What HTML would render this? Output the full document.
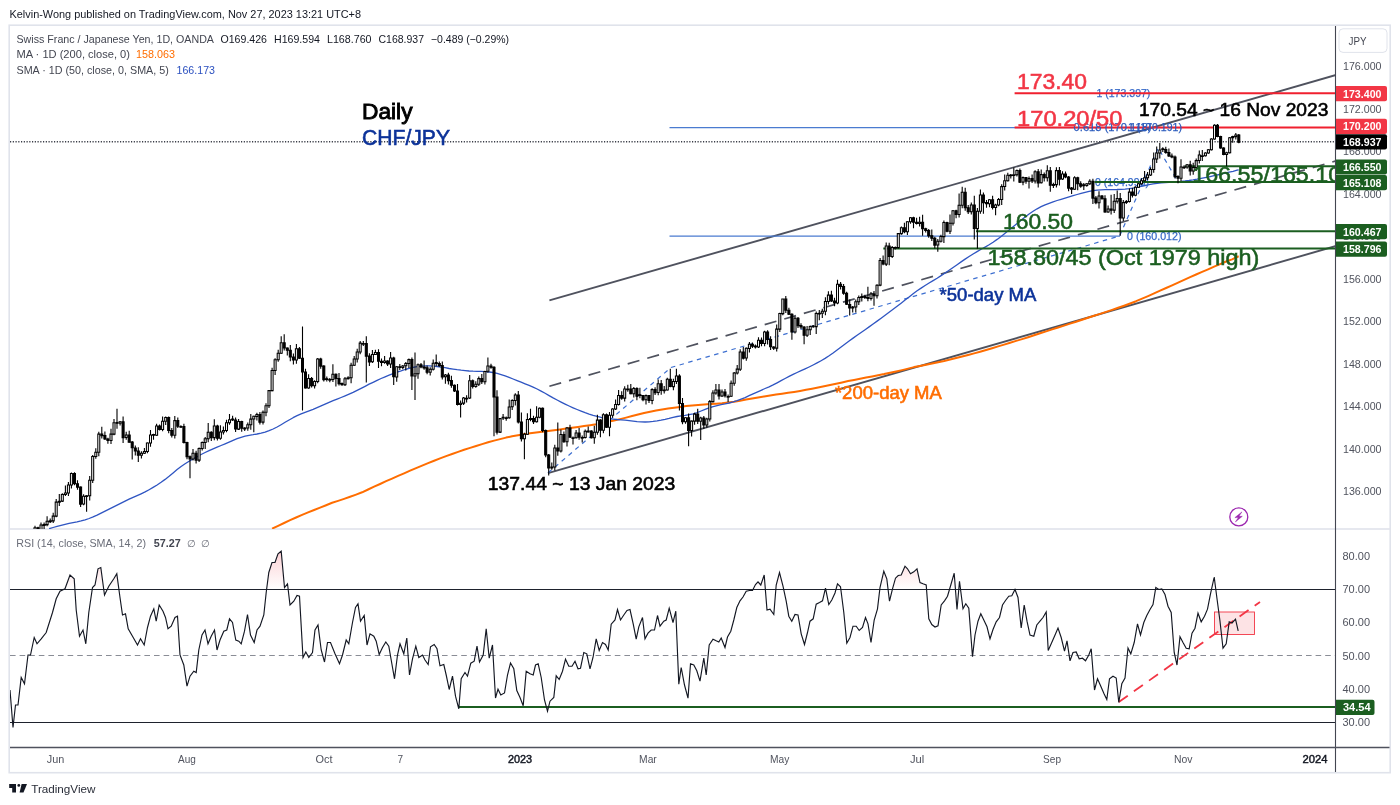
<!DOCTYPE html>
<html lang="en"><head><meta charset="utf-8"><title>CHF/JPY Daily - TradingView</title>
<style>
html,body{margin:0;padding:0;background:#fff;}
body{width:1400px;height:805px;overflow:hidden;position:relative;font-family:"Liberation Sans",sans-serif;}
svg{position:absolute;left:0;top:0;display:block;}
text{font-family:"Liberation Sans",sans-serif;}
.ax{font-size:11px;fill:#50535e;}
.tag{font-size:11px;fill:#fff;font-weight:bold;}
.lg{font-size:11px;fill:#50535e;}
.big{font-size:22.3px;stroke-width:0.55px;}
.mid{font-size:17.5px;stroke-width:0.55px;}
.fib{font-size:11px;fill:#3568c8;stroke:#3568c8;stroke-width:0.25px;}
</style></head><body>
<svg width="1400" height="805" viewBox="0 0 1400 805">
<defs>
<clipPath id="cm"><rect x="10" y="26" width="1326" height="503"/></clipPath>
<clipPath id="cr"><rect x="10" y="530" width="1326" height="217.5"/></clipPath>
<linearGradient id="pg" gradientUnits="userSpaceOnUse" x1="0" y1="538" x2="0" y2="589.5"><stop offset="0" stop-color="#f23645" stop-opacity="0.3"/><stop offset="1" stop-color="#f23645" stop-opacity="0"/></linearGradient>
</defs>
<rect x="0" y="0" width="1400" height="805" fill="#fff"/>
<text x="9.5" y="17.8" font-size="11" fill="#131722" textLength="351.5" lengthAdjust="spacingAndGlyphs">Kelvin-Wong published on TradingView.com, Nov 27, 2023 13:21 UTC+8</text>
<rect x="9.2" y="25.2" width="1381" height="747.5" fill="none" stroke="#e0e3eb" stroke-width="1.6"/>
<rect x="10" y="528.2" width="1380" height="1.6" fill="#e0e3eb"/>
<g clip-path="url(#cm)">
<line x1="10" y1="141.85" x2="1336" y2="141.85" stroke="#3a3d47" stroke-width="1.5" stroke-dasharray="1.2 1.55"/>
<line x1="549.4" y1="300.4" x2="1336" y2="75" stroke="#4f525e" stroke-width="1.9"/>
<line x1="548" y1="473.1" x2="1336" y2="246" stroke="#4f525e" stroke-width="1.9"/>
<line x1="549.4" y1="386.3" x2="1336" y2="160.9" stroke="#4f525e" stroke-width="1.7" stroke-dasharray="12.2 8.16"/>
<line x1="669.5" y1="127.6" x2="1182" y2="127.6" stroke="#4a7bd0" stroke-width="1.3"/>
<line x1="669.5" y1="236.1" x2="1120" y2="236.1" stroke="#4a7bd0" stroke-width="1.3"/>
<polyline fill="none" stroke="#3d6fd0" stroke-width="1.2" stroke-dasharray="4.5 4.5" points="548,473 671,367.5 1119.6,236 1158.2,148 1177.8,181.6"/>
<polyline fill="none" stroke="#ff6d00" stroke-width="2" stroke-linejoin="round" points="272.1,528.7 278.1,525.8 284.1,523 290.1,520.2 296.1,517.5 302.1,514.9 308.1,512.4 314.1,510 320.1,507.6 326.1,505.2 332.1,502.8 338.1,500.9 344.1,498.9 350.1,496.8 356.1,494.6 362.1,492.3 368.1,489.5 374.1,486.7 380.1,484 386.1,481.2 392.1,478.6 398.1,475.9 404.1,473.3 410.1,470.7 416.1,468.1 422.1,465.6 428.1,463.1 434.1,460.7 440.1,458.4 446.1,456.1 452.1,454 458.1,451.9 464.1,449.8 470.1,447.9 476.1,446 482.1,444.1 488.1,442.3 494.1,440.6 500.1,439.1 506.1,437.6 512.1,436.3 518.1,435.2 524.1,434.2 530.1,433.3 536.1,432.4 542.1,431.7 548.1,430.9 554.1,430.2 560.1,429.4 566.1,428.6 572.1,427.8 578.1,427 584.1,426.1 590.1,425.2 596.1,424.2 602.1,423 608.1,421.8 614.1,420.5 620.1,419.1 626.1,417.6 632.1,416 638.1,414.5 644.1,413 650.1,411.7 656.1,410.5 662.1,409.4 668.1,408.6 674.1,407.7 680.1,406.9 686.1,406.1 692.1,405.5 698.1,405 704.1,404.5 710.1,404.1 716.1,403.7 722.1,403.2 728.1,402.5 734.1,401.7 740.1,400.7 746.1,399.6 752.1,398.5 758.1,397.5 764.1,396.5 770.1,395.5 776.1,394.6 782.1,393.7 788.1,392.8 794.1,391.9 800.1,390.9 806.1,389.8 812.1,388.7 818.1,387.5 824.1,386.2 830.1,384.9 836.1,383.7 842.1,382.4 848.1,381.1 854.1,379.9 860.1,378.7 866.1,377.5 872.1,376.4 878.1,375.2 884.1,374.1 890.1,372.8 896.1,371.5 902.1,370.1 908.1,368.6 914.1,367.1 920.1,365.9 926.1,364.7 932.1,363.5 938.1,362.3 944.1,361 950.1,359.5 956.1,358 962.1,356.5 968.1,355 974.1,353.4 980.1,351.7 986.1,350 992.1,348.2 998.1,346.4 1004.1,344.6 1010.1,342.8 1016.1,340.9 1022.1,339.1 1028.1,337.2 1034.1,335.3 1040.1,333.3 1046.1,331.4 1052.1,329.4 1058.1,327.5 1064.1,325.6 1070.1,323.6 1076.1,321.7 1082.1,319.7 1088.1,317.8 1094.1,315.8 1100.1,313.9 1106.1,311.9 1112.1,309.9 1118.1,307.8 1124.1,305.7 1130.1,303.5 1136.1,301.2 1142.1,298.7 1148.1,296.1 1154.1,293.4 1160.1,290.7 1166.1,288 1172.1,285.3 1178.1,282.6 1184.1,279.9 1190.1,277.2 1196.1,274.5 1202.1,271.9 1208.1,269.3 1214.1,266.6 1220.1,264.1 1226.1,261.5 1232.1,259.4 1238.1,256.5 1238.7,256.3"/>
<polyline fill="none" stroke="#2f55c2" stroke-width="1.3" stroke-linejoin="round" points="49.1,528.7 53.1,527.5 57.1,526.3 61.1,525.3 65.1,524.3 69.1,523.4 73.1,522.6 77.1,521.8 81.1,520.9 85.1,519.8 89.1,518.5 93.1,516.9 97.1,515.1 101.1,513.1 105.1,511.1 109.1,509.1 113.1,507.1 117.1,505.1 121.1,503.1 125.1,501.1 129.1,499.2 133.1,497.4 137.1,495.6 141.1,493.8 145.1,491.9 149.1,489.7 153.1,487.4 157.1,485 161.1,482.3 165.1,479.4 169.1,476.3 173.1,472.9 177.1,469.6 181.1,466.5 185.1,463.8 189.1,461.2 193.1,458.9 197.1,456.7 201.1,454.5 205.1,452.5 209.1,450.6 213.1,448.8 217.1,447.2 221.1,445.5 225.1,443.9 229.1,442.2 233.1,440.4 237.1,438.7 241.1,437.3 245.1,436.2 249.1,435.3 253.1,434.7 257.1,434 261.1,433.2 265.1,432.2 269.1,430.7 273.1,429 277.1,427 281.1,424.7 285.1,422.3 289.1,420 293.1,417.7 297.1,415.7 301.1,413.9 305.1,412.3 309.1,410.8 313.1,409.3 317.1,407.6 321.1,405.9 325.1,404.1 329.1,402.4 333.1,400.7 337.1,399.1 341.1,397.5 345.1,395.9 349.1,394.2 353.1,392.4 357.1,390.4 361.1,388.4 365.1,386.3 369.1,384.2 373.1,382.3 377.1,380.3 381.1,378.5 385.1,376.8 389.1,375.2 393.1,373.6 397.1,372.2 401.1,370.9 405.1,369.5 409.1,368.4 413.1,367.4 417.1,366.6 421.1,366.1 425.1,365.9 429.1,365.9 433.1,366.1 437.1,366.5 441.1,367.1 445.1,367.7 449.1,368.5 453.1,369.1 457.1,369.7 461.1,370.2 465.1,370.6 469.1,371 473.1,371.2 477.1,371.3 481.1,371.4 485.1,371.6 489.1,372 493.1,372.5 497.1,373.4 501.1,374.6 505.1,375.9 509.1,377.4 513.1,379 517.1,380.6 521.1,382.2 525.1,383.8 529.1,385.4 533.1,387.1 537.1,389 541.1,391.1 545.1,393.3 549.1,395.6 553.1,397.9 557.1,400 561.1,402.1 565.1,404.1 569.1,406 573.1,407.8 577.1,409.5 581.1,411.1 585.1,412.7 589.1,414.1 593.1,415.4 597.1,416.4 601.1,417.3 605.1,418.1 609.1,418.7 613.1,419.1 617.1,419.5 621.1,419.8 625.1,420.2 629.1,420.6 633.1,421.1 637.1,421.6 641.1,421.9 645.1,422 649.1,421.8 653.1,421.4 657.1,420.8 661.1,420.1 665.1,419.3 669.1,418.4 673.1,417.3 677.1,416.5 681.1,415.9 685.1,415.4 689.1,414.7 693.1,413.9 697.1,412.7 701.1,411 705.1,409.4 709.1,407.9 713.1,406.6 717.1,405.6 721.1,404.7 725.1,403.9 729.1,403 733.1,401.9 737.1,400.7 741.1,399.2 745.1,397.6 749.1,395.7 753.1,393.9 757.1,392.1 761.1,390.3 765.1,388.5 769.1,386.8 773.1,384.9 777.1,382.8 781.1,380.6 785.1,378.5 789.1,376.4 793.1,374.4 797.1,372.5 801.1,370.7 805.1,368.9 809.1,367 813.1,365 817.1,362.9 821.1,360.7 825.1,358.4 829.1,355.8 833.1,353 837.1,350 841.1,347 845.1,344 849.1,341 853.1,338.1 857.1,335.3 861.1,332.5 865.1,329.7 869.1,326.9 873.1,324 877.1,321.1 881.1,318.2 885.1,315.2 889.1,312.2 893.1,309.3 897.1,306.3 901.1,303.2 905.1,300.1 909.1,296.9 913.1,293.7 917.1,290.8 921.1,288.1 925.1,285.5 929.1,283 933.1,280.6 937.1,278.2 941.1,275.6 945.1,273 949.1,270.3 953.1,267.5 957.1,264.7 961.1,261.9 965.1,259.1 969.1,256.5 973.1,254 977.1,251.6 981.1,249.3 985.1,247.1 989.1,244.8 993.1,242.2 997.1,239.4 1001.1,236.4 1005.1,233.3 1009.1,230.1 1013.1,226.8 1017.1,223.5 1021.1,220.3 1025.1,217.1 1029.1,214 1033.1,211.3 1037.1,208.8 1041.1,206.7 1045.1,204.8 1049.1,203.3 1053.1,201.8 1057.1,200.5 1061.1,199.3 1065.1,198.1 1069.1,196.9 1073.1,195.7 1077.1,194.5 1081.1,193.3 1085.1,192.3 1089.1,191.3 1093.1,190.6 1097.1,190.1 1101.1,189.9 1105.1,189.7 1109.1,189.6 1113.1,189.6 1117.1,189.5 1121.1,189.3 1125.1,189.1 1129.1,188.7 1133.1,188.1 1137.1,187.3 1141.1,186.4 1145.1,185.5 1149.1,184.6 1153.1,183.9 1157.1,183.4 1161.1,182.9 1165.1,182.6 1169.1,182.3 1173.1,182 1177.1,181.7 1181.1,181.4 1185.1,181 1189.1,180.5 1193.1,179.9 1197.1,179.2 1201.1,178.4 1205.1,177.6 1209.1,176.8 1213.1,175.9 1217.1,175 1221.1,174.1 1225.1,173.1 1229.1,172.1 1233.1,171.3 1237.1,170.2 1238.7,169.8"/>
<text class="fib" x="1096.4" y="96.8" textLength="54" lengthAdjust="spacingAndGlyphs">1 (173.397)</text>
<text class="fib" x="1127" y="239.7" textLength="54.5" lengthAdjust="spacingAndGlyphs">0 (160.012)</text>
<text class="fib" x="1095" y="185.6" textLength="54" lengthAdjust="spacingAndGlyphs">0 (164.998)</text>
<line x1="1014.6" y1="93.2" x2="1336" y2="93.2" stroke="#f0202f" stroke-width="2"/>
<line x1="1014.6" y1="127.5" x2="1336" y2="127.5" stroke="#f0202f" stroke-width="2"/>
<text class="fib" style="fill:#2a5bbd;stroke:#2a5bbd" x="1073.6" y="131.2" textLength="78" lengthAdjust="spacingAndGlyphs">0.618 (170.118)</text>
<text class="fib" style="fill:#2a5bbd;stroke:#2a5bbd" x="1128" y="131.2" textLength="54" lengthAdjust="spacingAndGlyphs">1 (170.191)</text>
<line x1="1185" y1="166.3" x2="1336" y2="166.3" stroke="#1b5e20" stroke-width="2"/>
<line x1="1094.5" y1="182" x2="1336" y2="182" stroke="#1b5e20" stroke-width="2"/>
<line x1="976" y1="231.2" x2="1336" y2="231.2" stroke="#1b5e20" stroke-width="2"/>
<line x1="883.3" y1="248.6" x2="1336" y2="248.6" stroke="#1b5e20" stroke-width="2"/>
<path d="M35 525.8V532.6M38 526.7V533.9M41 522.6V530.1M44.1 522.5V528.9M47.1 516.2V526.2M50.2 518.4V523M53.2 512.7V523M56.2 499.1V517.2M59.3 493.9V505.9M62.3 493.3V502M65.4 485.6V495.9M68.4 482V496.1M71.4 472.6V488.5M74.5 472.3V485.3M77.5 480.2V489.8M80.6 486.5V507M83.6 494.3V505.3M86.6 495V511.7M89.7 476.1V500.6M92.7 455V483M95.8 448.2V458.8M98.8 431.7V456.3M101.8 426.8V438.6M104.9 431.6V440M107.9 437.8V443.8M111 428.8V443.9M114 419.1V435.2M117 408.7V428.8M120.1 421V425.5M123.1 416.5V442.9M126.2 431.7V439.8M129.2 430.8V442.8M132.2 440.9V459.5M135.3 445.4V455.4M138.3 447.2V462.1M141.4 451.3V458.6M144.4 448V454M147.4 442.4V453.3M150.5 430.1V446.8M153.5 433.8V439.8M156.6 423.7V435.9M159.6 424.4V430.4M162.6 416.5V431.2M165.7 416.5V424.9M168.7 416.4V433.3M171.8 427.9V437.6M174.8 415.9V438.6M177.8 417.5V428.1M180.9 425.2V428M183.9 423.7V443.5M187 441.8V459.3M190 455.4V478.3M193 449.1V460.6M196.1 450.7V463.6M199.1 447.6V462M202.2 441.5V450.5M205.2 437V449.1M208.2 423V442.2M211.3 431.3V441.1M214.3 419.2V440.2M217.4 424.8V440.4M220.4 425.3V439.7M223.4 426.5V434.5M226.5 419.8V432.3M229.5 413.9V424.7M232.6 415.7V421.1M235.6 417.5V432M238.6 419V429.9M241.7 420.7V431.7M244.7 427.3V431M247.8 422.4V430.7M250.8 414V429.7M253.8 415.7V432.2M256.9 412.7V420.6M259.9 412V424.5M263 410.4V424.6M266 403.3V416.3M269 390V408.1M272.1 367.8V391.3M275.1 358.3V375M278.2 349.8V361.7M281.2 336.3V353.9M284.2 334.3V350.4M287.3 347.4V355.5M290.3 345.1V361.3M293.4 353.4V364.5M296.4 344V363.7M299.4 347V359.1M302.5 326.5V410.5M305.5 368.7V388.6M308.6 374.2V388.8M311.6 377.1V387.5M314.6 380.3V388.6M317.7 358V383.3M320.7 357.8V368.7M323.8 365.2V381.6M326.8 376.4V381.5M329.8 377.9V382.3M332.9 364.3V381.9M335.9 373.5V386.4M339 373V385.6M342 382.6V385.7M345 377V386M348.1 376.2V379.4M351.1 362.7V383.3M354.2 356.1V365.9M357.2 348.7V362.4M360.2 340.9V354.2M363.3 341.1V346M366.3 336.2V382.5M369.4 353.3V366M372.4 350.1V362.9M375.4 349.8V355.1M378.5 349.2V368M381.5 358.5V366.2M384.6 356V363.8M387.6 360.2V365.9M390.6 352V367.9M393.7 356.8V385M396.7 366.1V381.8M399.8 363.9V370M402.8 364.9V369.2M405.8 362V370.4M408.9 358.4V368M411.9 357.5V390M415 352.5V400M418 363.4V378.7M421 363.1V368.2M424.1 360.6V369.8M427.1 365.5V374.3M430.2 367.2V375.5M433.2 359.5V370.6M436.2 354.5V366.2M439.3 361.5V366.7M442.3 361.5V379.6M445.4 374.1V383.8M448.4 372.7V384.5M451.4 375.7V387.8M454.5 384.4V391.9M457.5 383.9V405.6M460.6 400.4V417.5M463.6 396.9V405M466.6 395.2V402.5M469.7 375.1V398.9M472.7 379.6V388.5M475.8 381.3V387.8M478.8 376.5V386M481.8 374V384M484.9 370.7V384.4M487.9 357.5V372.8M491 363.7V368.7M494 366.2V436.2M497 390.2V434.4M500.1 417.9V433.1M503.1 414.1V420.1M506.2 416.6V420.7M509.2 399.4V418.8M512.2 399.3V409.9M515.3 393.3V405.5M518.3 391.1V423.6M521.4 412.5V441.5M524.4 432.7V459.2M527.4 413.2V434.9M530.5 408.8V421.3M533.5 415.7V424M536.6 406.2V422.4M539.6 407.4V418.2M542.6 407.5V432.3M545.7 429.4V457.2M548.7 453.9V475.5M551.8 462.6V469.7M554.8 444.8V470.4M557.8 422.5V455.7M560.9 429.6V452.5M563.9 431.5V442.8M567 426.9V446.4M570 424.8V437.8M573 436.4V444.5M576.1 430.1V438.5M579.1 428.1V439.7M582.2 435.5V442.4M585.2 429.6V438.4M588.2 426.4V432.5M591.3 430.3V438.6M594.3 425.8V443.8M597.4 414.8V434.7M600.4 419.2V437.2M603.4 413.2V433.3M606.5 413.5V427.9M609.5 412V436.2M612.6 408.2V417.8M615.6 399.5V410M618.6 390V405.5M621.7 391.3V399.8M624.7 386.3V401.6M627.8 384.8V391.7M630.8 384.1V394.3M633.8 386.9V397.5M636.9 387.2V400.2M639.9 387.8V398.3M643 394.9V401.3M646 394.4V404.4M649 395V402.9M652.1 388.3V404.2M655.1 387.2V395.1M658.2 379.4V395.3M661.2 380V394.8M664.2 385.9V393.6M667.3 377.7V390.6M670.3 368.8V387.2M673.4 378.8V390.3M676.4 368.8V384M679.4 374.2V410.5M682.5 397.9V424.2M685.5 417.1V423.7M688.6 413.6V446.2M691.6 420.4V436.6M694.6 412.7V424.8M697.7 408.7V423.9M700.7 416.7V439.9M703.8 416.1V428.9M706.8 417.8V427.8M709.8 400V421.4M712.9 390.2V402.5M715.9 384V394.7M719 384V399.5M722 389.4V397M725 389V397.4M728.1 394.4V401.9M731.1 380.5V397.1M734.2 372V385.8M737.2 365.1V374.5M740.2 349.3V371.1M743.3 346.9V359.6M746.3 347.4V360.8M749.4 342V352.4M752.4 342.4V348M755.4 344.6V348.5M758.5 337.2V348M761.5 337.5V346.2M764.6 330.7V346.2M767.6 330.3V344.5M770.6 336.2V350M773.7 346.2V350.1M776.7 324.6V351.6M779.8 312.7V332M782.8 299V315.3M785.8 296V313M788.9 307.8V315M791.9 313.2V339.8M795 316.4V333.4M798 317V328M801 323.3V329M804.1 326.3V344.2M807.1 326.1V336.9M810.2 325.4V335.1M813.2 325V327.7M816.2 311.5V333.9M819.3 310.1V320.2M822.3 308.7V318.1M825.4 297.2V315.3M828.4 291.2V304.5M831.4 290.7V302.1M834.5 297.8V306.3M837.5 279.7V304.2M840.6 282.1V289.6M843.6 284V294.8M846.6 291.7V305M849.7 299.6V315.4M852.7 306V312.6M855.8 299.5V312.5M858.8 295.6V305M861.8 293.6V301.5M864.9 294.8V298.9M867.9 286.8V301.3M871 292V300.5M874 291V305.8M877 284.3V298.6M880.1 257.9V286.2M883.1 255.5V265.2M886.2 242.6V265.9M889.2 242.7V265.2M892.2 246V258.1M895.3 246.4V249.6M898.3 232.9V248.8M901.4 226.4V234.7M904.4 222.7V233.3M907.4 221.2V234.9M910.5 217V223.8M913.5 216.7V228.2M916.6 217.8V224.5M919.6 216.8V226.5M922.6 214.7V235.8M925.7 227.8V232.4M928.7 229.1V237.8M931.8 229.4V241.1M934.8 236.7V248.4M937.8 239V251.7M940.9 234.7V242.4M943.9 220.5V243M947 221.8V232.3M950 214.4V234.1M953 210V225.4M956.1 209.7V218.3M959.1 193.6V217.4M962.2 186.7V208.2M965.2 187.7V210.7M968.2 205V213.9M971.3 202.5V214.6M974.3 195.8V239.4M977.4 208.1V248.8M980.4 189.4V213.7M983.4 192.5V213.7M986.5 200.1V207.8M989.5 199V207.2M992.6 195.8V209.5M995.6 203.7V215.3M998.6 198.1V206.3M1001.7 184.2V204.9M1004.7 174.4V190.4M1007.8 172.8V181.4M1010.8 174.1V178.4M1013.8 167.4V181.6M1016.9 169.4V176.6M1019.9 168.5V183.1M1023 176.6V185.2M1026 177V183.7M1029 176.4V188.5M1032.1 174.6V183M1035.1 170.2V183.6M1038.2 169V187.5M1041.2 169.5V183.5M1044.2 172.6V181.5M1047.3 165.2V181.6M1050.3 167V191.8M1053.4 182.8V188.1M1056.4 167.3V187.4M1059.4 167V185.5M1062.5 171.2V179.9M1065.5 171.4V178.2M1068.6 175.9V191.2M1071.6 186.9V194.1M1074.6 176.3V189.9M1077.7 176.8V190.2M1080.7 181.2V187.8M1083.8 182.9V189.9M1086.8 182.9V186.8M1089.8 179.2V185.1M1092.9 178.7V203.9M1095.9 195.9V204.2M1099 191.3V208.4M1102 195.1V199.4M1105 195.2V212.8M1108.1 205.4V212.8M1111.1 194.7V214.5M1114.2 193.9V213M1117.2 190.6V203.6M1120.2 193.1V235.7M1123.3 200V221.1M1126.3 199.9V203.9M1129.4 188.4V202.4M1132.4 187.7V197.6M1135.4 186.2V196.2M1138.5 182.9V188M1141.5 178.2V184.7M1144.6 170.9V181.4M1147.6 172.1V180M1150.6 167.3V176M1153.7 152.6V172.8M1156.7 146.5V163.1M1159.8 143V158.5M1162.8 147.2V151.9M1165.8 146.8V153.7M1168.9 148.6V157.1M1171.9 153.6V158.3M1175 155.6V178.4M1178 175.2V183.2M1181 159.3V181M1184.1 165.3V169.1M1187.1 164.1V168.8M1190.2 160.8V175.4M1193.2 162.8V174.8M1196.2 158.6V171.1M1199.3 150.6V163.5M1202.3 150.1V161M1205.4 152.2V156.5M1208.4 149V153.8M1211.4 138.2V150.6M1214.5 124.2V139.8M1217.5 124V137.3M1220.6 135.7V148.8M1223.6 147.2V155.3M1226.6 151.8V166.2M1229.7 137V153.6M1232.7 135.8V142.8M1235.8 133V139.5M1238.8 134V143.2" stroke="#000" stroke-width="1.1" fill="none"/>
<path d="M34 527.7h2v3h-2zM40 525h2v4.5h-2zM43.1 524.6h2v0.8h-2zM46.1 521.2h2v3.4h-2zM49.2 520.8h2v0.8h-2zM52.2 516.1h2v4.8h-2zM55.2 502.1h2v14h-2zM58.3 501.2h2v0.9h-2zM61.3 494.4h2v6.7h-2zM64.4 493h2v1.5h-2zM67.4 484.9h2v8.1h-2zM70.4 473.4h2v11.5h-2zM82.6 496.3h2v7.8h-2zM85.6 495.8h2v0.8h-2zM88.7 480.2h2v15.6h-2zM91.7 456.4h2v23.8h-2zM94.8 452.3h2v4.1h-2zM97.8 434.1h2v18.2h-2zM110 434.1h2v6.3h-2zM113 422.7h2v11.4h-2zM119.1 421.7h2v1.6h-2zM125.2 435h2v2.5h-2zM140.4 453.2h2v2h-2zM143.4 451.4h2v1.8h-2zM146.4 443h2v8.4h-2zM149.5 434.9h2v8.1h-2zM155.6 426h2v9.3h-2zM161.6 421.3h2v8.1h-2zM164.7 417.5h2v3.8h-2zM173.8 420.6h2v14.7h-2zM179.9 426.5h2v0.8h-2zM192 453.2h2v5.8h-2zM198.1 448.5h2v11.6h-2zM201.2 442.4h2v6.1h-2zM204.2 438.7h2v3.7h-2zM207.2 432.2h2v6.5h-2zM213.3 426h2v11.6h-2zM219.4 431.9h2v6.3h-2zM222.4 430.4h2v1.5h-2zM225.5 422.8h2v7.6h-2zM228.5 419.8h2v3h-2zM237.6 421.4h2v7.7h-2zM243.7 428.1h2v0.8h-2zM246.8 424.8h2v3.3h-2zM249.8 419.1h2v5.7h-2zM252.8 416.3h2v2.8h-2zM255.9 414.5h2v1.9h-2zM262 412.2h2v9.9h-2zM265 405.8h2v6.5h-2zM268 390.6h2v15.2h-2zM271.1 370.5h2v20.1h-2zM274.1 359.7h2v10.8h-2zM277.2 353.3h2v6.4h-2zM280.2 342.8h2v10.5h-2zM295.4 348.8h2v11.2h-2zM307.6 378.5h2v9.5h-2zM313.6 381.5h2v4.2h-2zM316.7 359h2v22.4h-2zM328.8 379.5h2v0.8h-2zM331.9 374.2h2v5.3h-2zM344 378.7h2v6h-2zM347.1 377.8h2v0.9h-2zM350.1 365.3h2v12.4h-2zM353.2 359h2v6.3h-2zM356.2 351.9h2v7.1h-2zM359.2 343.1h2v8.9h-2zM362.3 343.4h2v0.8h-2zM371.4 354.4h2v7.4h-2zM374.4 352.4h2v2h-2zM383.6 360.9h2v1.6h-2zM389.6 357.9h2v6h-2zM395.7 366.7h2v10.2h-2zM401.8 365.9h2v1.6h-2zM404.8 363.5h2v2.3h-2zM407.9 359.6h2v3.9h-2zM414 373.7h2v2.3h-2zM417 364.8h2v8.9h-2zM429.2 369.3h2v3h-2zM432.2 363.2h2v6.1h-2zM444.4 374.9h2v1.9h-2zM459.6 403.2h2v1.3h-2zM462.6 397.9h2v5.2h-2zM465.6 398.2h2v0.8h-2zM468.7 380.8h2v17.3h-2zM474.8 384.2h2v2.3h-2zM477.8 378.6h2v5.6h-2zM483.9 371.4h2v10.3h-2zM486.9 366h2v5.3h-2zM499.1 418.6h2v13.5h-2zM505.2 417.7h2v0.8h-2zM508.2 406.9h2v10.8h-2zM511.2 400.5h2v6.3h-2zM514.3 394.9h2v5.6h-2zM523.4 434.3h2v4.5h-2zM526.4 419.4h2v14.9h-2zM529.5 418.5h2v0.9h-2zM535.6 417.2h2v4.6h-2zM538.6 408.2h2v9h-2zM550.8 467h2v0.9h-2zM553.8 447.9h2v19.1h-2zM559.9 434.4h2v16.6h-2zM566 427.9h2v13.8h-2zM572 437.7h2v0.8h-2zM575.1 433h2v4.7h-2zM581.2 437.5h2v0.8h-2zM584.2 431.2h2v6.3h-2zM587.2 431.1h2v0.8h-2zM593.3 432.2h2v5.6h-2zM596.4 420.1h2v12.1h-2zM602.4 414.8h2v15.4h-2zM608.5 415.3h2v12h-2zM611.6 409h2v6.3h-2zM614.6 404.4h2v4.6h-2zM617.6 395.4h2v9h-2zM623.7 388.9h2v9.2h-2zM626.8 388.9h2v0.8h-2zM632.8 388.5h2v5.2h-2zM645 395.6h2v4.1h-2zM651.1 389.6h2v10.9h-2zM657.2 383.8h2v8.7h-2zM663.2 389.9h2v0.8h-2zM666.3 379.3h2v10.6h-2zM672.4 381.4h2v5.2h-2zM675.4 375.9h2v5.5h-2zM684.5 417.7h2v4h-2zM690.6 421.1h2v9.3h-2zM693.6 414.1h2v7h-2zM699.7 417.9h2v3.3h-2zM705.8 419h2v5.9h-2zM708.8 401.6h2v17.3h-2zM711.9 392.9h2v8.7h-2zM714.9 389.9h2v3h-2zM721 392h2v3.9h-2zM727.1 396.4h2v0.8h-2zM730.1 383.3h2v13h-2zM733.2 373h2v10.3h-2zM736.2 369.1h2v3.9h-2zM739.2 352h2v17.2h-2zM745.3 348.3h2v9.8h-2zM748.4 344.2h2v4.2h-2zM757.5 340.3h2v6.7h-2zM763.6 331.9h2v11.5h-2zM775.7 329.1h2v19h-2zM778.8 313.5h2v15.6h-2zM781.8 299h2v14.6h-2zM794 318.2h2v13.7h-2zM806.1 329.8h2v5.4h-2zM809.2 326.5h2v3.3h-2zM815.2 313.4h2v13.2h-2zM818.3 313.2h2v0.8h-2zM821.3 311.2h2v2h-2zM824.4 301.5h2v9.8h-2zM827.4 295.1h2v6.3h-2zM836.5 284.3h2v18.6h-2zM851.7 307.1h2v0.9h-2zM854.8 301.8h2v5.3h-2zM857.8 297.4h2v4.4h-2zM860.8 296.6h2v0.8h-2zM870 294h2v4.4h-2zM876 285.2h2v10.6h-2zM879.1 260.5h2v24.6h-2zM885.2 246h2v18.1h-2zM891.2 247.4h2v9h-2zM894.3 247.5h2v0.8h-2zM897.3 233.6h2v13.9h-2zM900.4 227.8h2v5.8h-2zM906.4 221.8h2v10h-2zM909.5 217.7h2v4.1h-2zM918.6 222.2h2v1.2h-2zM936.8 241.2h2v3.9h-2zM939.9 236.5h2v4.7h-2zM942.9 222.5h2v14.1h-2zM949 223.2h2v8h-2zM952 210.7h2v12.5h-2zM958.1 205.3h2v9.1h-2zM961.2 192.3h2v13h-2zM970.3 204.9h2v6.8h-2zM976.4 211.3h2v17.3h-2zM979.4 195h2v16.3h-2zM988.5 199.8h2v4h-2zM994.6 204.9h2v2.6h-2zM997.6 199.5h2v5.4h-2zM1000.7 186.6h2v12.9h-2zM1003.7 180.7h2v5.8h-2zM1006.8 175.3h2v5.4h-2zM1009.8 174.9h2v0.8h-2zM1012.8 174.7h2v0.8h-2zM1015.9 170.5h2v4.2h-2zM1022 177.6h2v4.5h-2zM1028 178.6h2v2.6h-2zM1034.1 171.7h2v9.2h-2zM1040.2 174.6h2v8.2h-2zM1046.3 170.8h2v7h-2zM1052.4 184.6h2v0.8h-2zM1055.4 170.6h2v14h-2zM1061.5 173.9h2v5.2h-2zM1073.6 177.8h2v11.4h-2zM1085.8 183.7h2v1.9h-2zM1088.8 181.3h2v2.4h-2zM1098 195.9h2v6.8h-2zM1107.1 208.9h2v3.1h-2zM1113.2 201.3h2v8.8h-2zM1116.2 198.4h2v2.9h-2zM1122.3 202.6h2v15.3h-2zM1125.3 201.4h2v1.2h-2zM1128.4 192.1h2v9.3h-2zM1134.4 187.2h2v8h-2zM1137.5 183.8h2v3.4h-2zM1140.5 180.7h2v3.1h-2zM1143.6 177.7h2v3h-2zM1146.6 175h2v2.7h-2zM1149.6 169.5h2v5.5h-2zM1152.7 158.9h2v10.6h-2zM1155.7 153h2v5.9h-2zM1158.8 149.9h2v3.1h-2zM1180 167h2v11.3h-2zM1183.1 166.9h2v0.8h-2zM1186.1 164.8h2v2.1h-2zM1192.2 167.4h2v3.6h-2zM1195.2 160.6h2v6.8h-2zM1198.3 154.9h2v5.7h-2zM1201.3 155.7h2v0.8h-2zM1204.4 153h2v2.7h-2zM1207.4 149.8h2v3.2h-2zM1210.4 139h2v10.8h-2zM1213.5 125.2h2v13.8h-2zM1225.6 152.8h2v1.7h-2zM1228.7 137.8h2v15h-2zM1231.7 136.6h2v1.2h-2zM1234.8 135h2v1.6h-2z" fill="#fff" stroke="#000" stroke-width="1.05"/>
<path d="M37 527.7h2v1.8h-2zM73.5 473.4h2v10.4h-2zM76.5 483.7h2v3.4h-2zM79.6 487.1h2v17h-2zM100.8 434.1h2v1.5h-2zM103.9 435.6h2v3.4h-2zM106.9 439h2v1.4h-2zM116 422.5h2v0.8h-2zM122.1 421.7h2v15.9h-2zM128.2 435h2v7.1h-2zM131.2 442.1h2v5.7h-2zM134.3 447.9h2v3h-2zM137.3 450.9h2v4.4h-2zM152.5 434.5h2v0.8h-2zM158.6 426h2v3.4h-2zM167.7 417.5h2v13h-2zM170.8 430.5h2v4.7h-2zM176.8 420.6h2v5.7h-2zM182.9 426.5h2v16h-2zM186 442.5h2v14.2h-2zM189 456.7h2v2.3h-2zM195.1 453.2h2v6.9h-2zM210.3 432.2h2v5.4h-2zM216.4 426h2v12.2h-2zM231.6 419.1h2v0.8h-2zM234.6 419.9h2v9.1h-2zM240.7 421.4h2v6.9h-2zM258.9 414.5h2v7.7h-2zM283.2 342.8h2v5.3h-2zM286.3 348.1h2v2.2h-2zM289.3 350.3h2v6.8h-2zM292.4 357.1h2v2.9h-2zM298.4 348.8h2v9.5h-2zM301.5 358.3h2v13.8h-2zM304.5 372.1h2v15.9h-2zM310.6 378.5h2v7.2h-2zM319.7 359h2v7.1h-2zM322.8 366.1h2v13.7h-2zM325.8 378.8h2v0.8h-2zM334.9 374.2h2v4.3h-2zM338 378.5h2v5.1h-2zM341 383.6h2v1.1h-2zM365.3 343.4h2v12.7h-2zM368.4 356.1h2v5.8h-2zM377.5 352.4h2v8.9h-2zM380.5 361.3h2v1.2h-2zM386.6 360.9h2v3h-2zM392.7 357.9h2v18.9h-2zM398.8 366.7h2v0.8h-2zM410.9 359.6h2v16.4h-2zM420 364.8h2v2.1h-2zM423.1 367h2v0.9h-2zM426.1 367.8h2v4.5h-2zM435.2 362.6h2v0.8h-2zM438.3 363.4h2v2.2h-2zM441.3 365.6h2v11.3h-2zM447.4 374.9h2v5.7h-2zM450.4 380.6h2v4.7h-2zM453.5 385.3h2v5.8h-2zM456.5 391.1h2v13.3h-2zM471.7 380.8h2v5.7h-2zM480.8 378.6h2v3h-2zM490 366h2v1.3h-2zM493 367.3h2v29.6h-2zM496 396.9h2v35.2h-2zM502.1 417.3h2v0.8h-2zM517.3 394.9h2v27.1h-2zM520.4 422h2v16.8h-2zM532.5 418.5h2v3.2h-2zM541.6 408.2h2v22.2h-2zM544.7 430.4h2v24.6h-2zM547.7 454.9h2v13h-2zM556.8 447.9h2v3.1h-2zM562.9 434.4h2v7.3h-2zM569 427.9h2v9.2h-2zM578.1 433h2v4.3h-2zM590.3 431.1h2v6.7h-2zM599.4 420.1h2v10.1h-2zM605.5 414.8h2v12.5h-2zM620.7 395.4h2v2.7h-2zM629.8 388.9h2v4.8h-2zM635.9 388.5h2v7.8h-2zM638.9 394.8h2v0.8h-2zM642 395.6h2v4h-2zM648 395.6h2v4.9h-2zM654.1 389.6h2v3h-2zM660.2 383.8h2v6.8h-2zM669.3 379.3h2v7.3h-2zM678.4 375.9h2v27.5h-2zM681.5 403.4h2v18.3h-2zM687.6 417.7h2v12.7h-2zM696.7 414.1h2v7.1h-2zM702.8 417.9h2v7h-2zM718 389.9h2v6.1h-2zM724 392h2v3.7h-2zM742.3 352h2v6.1h-2zM751.4 344.2h2v1.9h-2zM754.4 346.1h2v0.9h-2zM760.5 340.3h2v3.1h-2zM766.6 331.9h2v7.5h-2zM769.6 339.4h2v7.4h-2zM772.7 346.9h2v1.2h-2zM784.8 299h2v11.3h-2zM787.9 310.3h2v3.9h-2zM790.9 314.2h2v17.7h-2zM797 318.2h2v7.5h-2zM800 325.6h2v1.3h-2zM803.1 326.9h2v8.3h-2zM812.2 325.9h2v0.8h-2zM830.4 295.1h2v5.9h-2zM833.5 301h2v1.9h-2zM839.6 284.3h2v2.1h-2zM842.6 286.5h2v6.8h-2zM845.6 293.2h2v11.1h-2zM848.7 304.4h2v3.6h-2zM863.9 296.6h2v0.8h-2zM866.9 297.4h2v1h-2zM873 294h2v1.8h-2zM882.1 260.5h2v3.5h-2zM888.2 246h2v10.5h-2zM903.4 227.8h2v4h-2zM912.5 217.7h2v4.5h-2zM915.6 222.2h2v1.2h-2zM921.6 222.2h2v6.6h-2zM924.7 228.7h2v1.7h-2zM927.7 230.4h2v5.4h-2zM930.8 235.8h2v2.4h-2zM933.8 238.3h2v6.8h-2zM946 222.5h2v8.7h-2zM955.1 210.7h2v3.8h-2zM964.2 192.3h2v15.4h-2zM967.2 207.7h2v4h-2zM973.3 204.9h2v23.7h-2zM982.4 195h2v7.6h-2zM985.5 202.6h2v1.1h-2zM991.6 199.8h2v7.6h-2zM1018.9 170.5h2v11.7h-2zM1025 177.6h2v3.5h-2zM1031.1 178.6h2v2.4h-2zM1037.2 171.7h2v11.2h-2zM1043.2 174.6h2v3.2h-2zM1049.3 170.8h2v14.5h-2zM1058.4 170.6h2v8.6h-2zM1064.5 173.9h2v3h-2zM1067.6 177h2v11.1h-2zM1070.6 188h2v1.2h-2zM1076.7 177.8h2v5.9h-2zM1079.7 183.8h2v2.3h-2zM1082.8 184.8h2v0.8h-2zM1091.9 181.3h2v16.8h-2zM1094.9 198.1h2v4.7h-2zM1101 195.9h2v2.8h-2zM1104 198.7h2v13.3h-2zM1110.1 208.9h2v1.3h-2zM1119.2 198.4h2v19.5h-2zM1131.4 192.1h2v3.2h-2zM1161.8 148.7h2v0.8h-2zM1164.8 149.5h2v3h-2zM1167.9 152.6h2v3.3h-2zM1170.9 155.9h2v1.1h-2zM1174 157h2v19.6h-2zM1177 176.6h2v1.7h-2zM1189.2 164.8h2v6.2h-2zM1216.5 125.2h2v11.3h-2zM1219.6 136.5h2v11.5h-2zM1222.6 148h2v6.5h-2zM1237.8 135h2v7.2h-2z" fill="#000" stroke="#000" stroke-width="1.05"/>
<text class="big" x="362" y="118.8" fill="#000" stroke="#000" style="stroke-width:0.9px" textLength="50.5" lengthAdjust="spacingAndGlyphs">Daily</text>
<text x="362" y="144.5" font-size="22.3" fill="#0c3299" stroke="#0c3299" stroke-width="0.6" textLength="88" lengthAdjust="spacingAndGlyphs">CHF/JPY</text>
<text class="big" x="1017" y="89.2" fill="#f23645" stroke="#f23645" textLength="70" lengthAdjust="spacingAndGlyphs">173.40</text>
<text class="big" x="1017" y="126" fill="#f23645" stroke="#f23645" textLength="105.5" lengthAdjust="spacingAndGlyphs">170.20/50</text>
<text class="mid" x="1138.9" y="116.3" fill="#000" stroke="#000" textLength="189.5" lengthAdjust="spacingAndGlyphs">170.54 ~ 16 Nov 2023</text>
<text class="big" x="1192.2" y="182" fill="#1b5e20" stroke="#1b5e20" textLength="149" lengthAdjust="spacingAndGlyphs">166.55/165.10</text>
<text class="big" x="1003" y="228.8" fill="#1b5e20" stroke="#1b5e20" textLength="70" lengthAdjust="spacingAndGlyphs">160.50</text>
<text class="big" x="987.4" y="264.8" fill="#1b5e20" stroke="#1b5e20" textLength="272" lengthAdjust="spacingAndGlyphs">158.80/45 (Oct 1979 high)</text>
<text class="mid" x="939.6" y="300.9" fill="#0c3299" stroke="#0c3299" textLength="96.7" lengthAdjust="spacingAndGlyphs">*50-day MA</text>
<text class="mid" x="834.9" y="398.6" fill="#ff6d00" stroke="#ff6d00" textLength="107" lengthAdjust="spacingAndGlyphs">*200-day MA</text>
<text class="mid" x="487.8" y="489.5" fill="#000" stroke="#000" textLength="187.5" lengthAdjust="spacingAndGlyphs">137.44 ~ 13 Jan 2023</text>
<circle cx="1238.8" cy="516.9" r="9" fill="none" stroke="#9c27b0" stroke-width="1.3"/>
<path d="M1241.9 511.9 L1234.9 517.6 L1238.4 517.6 L1235.4 521.9 L1242.3 516.3 L1238.9 516.3 Z" fill="#9c27b0" stroke="#9c27b0" stroke-width="0.5" stroke-linejoin="round"/>
</g>
<text class="lg" x="16.5" y="42.6" fill="#434651" style="fill:#434651" textLength="197.5" lengthAdjust="spacingAndGlyphs">Swiss Franc / Japanese Yen, 1D, OANDA</text>
<text class="lg" x="220.5" y="42.6" fill="#131722" style="fill:#131722" textLength="46.5" lengthAdjust="spacingAndGlyphs">O169.426</text>
<text class="lg" x="274" y="42.6" fill="#131722" style="fill:#131722" textLength="46" lengthAdjust="spacingAndGlyphs">H169.594</text>
<text class="lg" x="327" y="42.6" fill="#131722" style="fill:#131722" textLength="44.5" lengthAdjust="spacingAndGlyphs">L168.760</text>
<text class="lg" x="378.5" y="42.6" fill="#131722" style="fill:#131722" textLength="45.5" lengthAdjust="spacingAndGlyphs">C168.937</text>
<text class="lg" x="431" y="42.6" fill="#131722" style="fill:#131722" textLength="78" lengthAdjust="spacingAndGlyphs">−0.489 (−0.29%)</text>
<text class="lg" x="16.5" y="58" fill="#434651" style="fill:#434651" textLength="113.5" lengthAdjust="spacingAndGlyphs">MA · 1D (200, close, 0)</text>
<text class="lg" x="136" y="58" fill="#ff6d00" style="fill:#ff6d00" textLength="39" lengthAdjust="spacingAndGlyphs">158.063</text>
<text class="lg" x="16.5" y="74" fill="#434651" style="fill:#434651" textLength="152.3" lengthAdjust="spacingAndGlyphs">SMA · 1D (50, close, 0, SMA, 5)</text>
<text class="lg" x="176.5" y="74" fill="#2a4fbf" style="fill:#2a4fbf" textLength="38.5" lengthAdjust="spacingAndGlyphs">166.173</text>
<g clip-path="url(#cr)">
<polygon fill="url(#pg)" points="64.5,589 65,588.8 70,575 74.2,578.8 74.9,589"/>
<polygon fill="url(#pg)" points="92.3,589 92.5,587.5 95,585 98,568.8 100.8,567.5 103.7,589"/>
<polygon fill="url(#pg)" points="107.4,589 108.8,586.2 113.8,578.8 116.8,573.8 118.8,589"/>
<polygon fill="url(#pg)" points="266.7,589 268.8,572.5 272,562.5 275,562.5 278,553.8 281.2,551.2 284.5,587.5 287.5,583.8 288.1,589"/>
<polygon fill="url(#pg)" points="753.2,589 755.5,584.5 758,581.8 760.8,585 764.2,575 765.4,589"/>
<polygon fill="url(#pg)" points="775.9,589 776.2,585 779.5,572.5 783,586.2 783.6,589"/>
<polygon fill="url(#pg)" points="825.3,589 825.5,588.2 825.6,589"/>
<polygon fill="url(#pg)" points="836.1,589 837.5,583.8 840.5,586.8 840.8,589"/>
<polygon fill="url(#pg)" points="879.8,589 880,587.5 883.8,571.2 886.8,578.8 888,589"/>
<polygon fill="url(#pg)" points="892.4,589 892.5,588.8 895.5,578.2 898.2,575.5 901.2,575 905,566.2 907.5,568.8 910.5,573.8 913.8,571.8 917,568.8 920,582.5 923,583.8 926.2,585 926.5,589"/>
<polygon fill="url(#pg)" points="949.6,589 950.8,585 954.2,573.2 955.4,589"/>
<polygon fill="url(#pg)" points="958.8,589 959.5,581.2 960.5,589"/>
<polygon fill="url(#pg)" points="1155.5,589 1155.8,587.5 1158,589"/>
<polygon fill="url(#pg)" points="1160.8,589 1161.8,588.8 1161.9,589"/>
<polygon fill="url(#pg)" points="1211.6,589 1214.2,577 1215.8,589"/>
<line x1="10" y1="589.5" x2="1336" y2="589.5" stroke="#1e222d" stroke-width="1"/>
<line x1="10" y1="722.5" x2="1336" y2="722.5" stroke="#1e222d" stroke-width="1"/>
<line x1="10" y1="655.5" x2="1336" y2="655.5" stroke="#8a8d96" stroke-width="1" stroke-dasharray="5.6 4"/>
<line x1="458.8" y1="707" x2="1336" y2="707" stroke="#1b5e20" stroke-width="1.8"/>
<rect x="1214.5" y="612" width="40" height="22.5" fill="#f23645" fill-opacity="0.14" stroke="#f23645" stroke-width="0.9"/>
<line x1="1118.8" y1="702" x2="1260" y2="602" stroke="#f23645" stroke-width="1.8" stroke-dasharray="11 7.5"/>
<polyline fill="none" stroke="#131722" stroke-width="1.15" stroke-linejoin="miter" points="10,690 13,727.5 15.5,705 18,705 21.2,677.5 24.5,683.8 28,655 30.5,655 34.2,637.5 37,643.8 41.2,638.8 46.2,632.5 52.5,612.5 56.2,598.8 60,591.2 65,588.8 70,575 74.2,578.8 76.2,610 79.5,636.2 83,630 85.8,643.8 88.8,612.5 92.5,587.5 95,585 98,568.8 100.8,567.5 104.5,595 108.8,586.2 113.8,578.8 116.8,573.8 120,597.5 122.5,615 125.5,613.8 128.2,628.8 132.5,636.2 137.5,645 140.5,638.8 144.2,645 147.5,627.5 150.5,616.2 153.8,608.8 156.2,621.2 159.2,605 163,611.2 165.5,617.5 168,628.8 171.2,626.2 175,617.5 177.5,616.2 180,655 183.8,665 187,686.2 190,676.2 193.8,671.2 196.2,672.5 198.8,650 202,635 205,630 208,643.8 211.2,636.2 214.5,630 217,650 220,640 223.8,631.2 226.8,630 229.5,618.8 232.5,622.5 235.8,640 238.8,641.2 241.2,643.8 244.5,631.2 247.5,614.5 250.5,635 254.2,642.5 257,630 260,626.2 263.8,615 266.2,592.5 268.8,572.5 272,562.5 275,562.5 278,553.8 281.2,551.2 284.5,587.5 287.5,583.8 290,605 293.8,601.2 297,595.5 299.5,596.2 303,657.5 305.8,652 308.8,657.5 312.5,652.5 315,630 318,625 321.2,650 324.5,662 327.5,642.5 330.5,642.5 335,653.8 339.5,663.8 342.5,655 346.2,640 348.8,643.8 352.5,622.5 355.5,607.5 358,603.8 360.5,621.2 364.2,615.5 367,645 370,633.8 373.8,636.2 376.2,641.2 379.2,654.5 382.5,647.5 385.8,642 388.8,646.2 391.2,660 394.5,678.8 397.5,655 400,643.8 403.8,653.8 406.8,638 409.5,675 412.5,658.8 415.8,646.2 418.8,657.5 422.5,655 425,660 428.2,664.5 430.5,646.8 434.2,644.5 437,648.8 440,665.8 443.8,664.5 446.2,675 449.2,689.5 452.5,676.2 455.5,696.2 458.8,708.8 461.2,678.8 465,672.5 467.5,676.2 470.8,663.2 474.2,661.2 477,646.2 479.5,662 483.2,655 486.2,628.8 489.2,658.2 492.5,645 495.5,698 498,689.2 500.8,695 504.5,693 507.5,675 510.5,663 513.8,668.8 516.8,690.5 520,697.5 523.2,705.8 526.2,671.2 530,673.8 533.2,675 535.5,665 538.2,663.8 541.2,677.5 544.5,700 547.5,711.2 550,701.2 553.8,697.5 556.2,675.8 559.2,679.5 562.5,671.2 565.5,659.2 568.8,666.2 572,666.2 575,661.2 578,668.8 580.5,668.2 583.8,652.5 586.8,653.8 590,668.8 593,657.5 596.2,638.8 599.2,650.5 602.5,642.5 605.5,644.5 608.2,650 611.2,624.2 615,620 617.5,609.5 620.5,620 623.8,615 627,610.5 630,609.5 633.2,623.8 636.2,639.2 638.8,626.8 642.5,617.5 645,638.8 648,633.2 651.2,630 654.5,630 657.5,615.5 660,626.2 663.8,621.2 666.2,620 669.2,608.2 673,622.5 675.8,611.2 678.8,684.2 681.2,667.5 684.5,685 688,698.2 690.5,663.8 693.8,665 696.8,670.8 700,681.2 703.8,658 706.2,675 709.2,645 713,639.2 716.2,640.8 718.8,642 721.2,638 725,647.5 727.5,637 730.8,631.2 733.8,620 736.8,607.5 740,600.8 743,597 746.2,591.2 749.5,590.5 752.5,590.5 755.5,584.5 758,581.8 760.8,585 764.2,575 767,610 770,609.2 773.8,614.5 776.2,585 779.5,572.5 783,586.2 786.2,601.2 788.8,616.2 791.8,621.2 795,614.5 798,615 801.2,633.8 804.5,644.5 807.5,632.5 810,621.2 813.2,618.8 816.2,604.2 819.5,602.5 822.5,600.8 825.5,588.2 828.8,604.5 831.8,600 835,593 837.5,583.8 840.5,586.8 843.8,612.5 846.8,643.2 850,637.5 853,626.2 856.2,626.2 859.2,630.5 862.5,627.5 865.5,617.5 868,623.8 871,642.5 874.2,620 877.5,608.8 880,587.5 883.8,571.2 886.8,578.8 889.5,601.2 892.5,588.8 895.5,578.2 898.2,575.5 901.2,575 905,566.2 907.5,568.8 910.5,573.8 913.8,571.8 917,568.8 920,582.5 923,583.8 926.2,585 928.8,618.8 931.8,624.5 935,627 938,625.8 941.2,605 944.5,600.8 947.5,596.2 950.8,585 954.2,573.2 957,609.5 959.5,581.2 963,608.8 965.8,603.8 968.8,608.2 972.5,656.8 975,635 978,621.2 980.8,613.8 983.8,620 987,626.8 990,638.8 993,629.5 996.2,621.8 999.5,617.5 1002.5,605 1005.5,600.5 1008.8,596.2 1011.8,595.8 1015,589.5 1018,597.5 1021.2,628 1024.2,605 1027,621.2 1030,635 1033.8,636.2 1036.8,625 1040,621.2 1043,617.5 1046.2,612 1048.2,650.5 1051.2,643.8 1054.5,636.2 1058,628 1061.2,637.5 1064.5,651.2 1067,640.8 1070,660.8 1073,652.5 1076.2,652 1079.2,658.8 1082.5,658.2 1085.5,660.8 1088.8,655 1091.2,648.8 1094.5,690 1097.5,678.8 1100.8,686.2 1103.8,693.2 1106.8,699.5 1109.5,678.8 1113,676.2 1116.2,678 1118.8,702.5 1121.8,683.8 1125,678 1128,648 1130.8,653.8 1134.2,642.5 1137.5,623.8 1140.5,635 1143.8,622.5 1146.8,615.5 1150,609.5 1153,604.5 1155.8,587.5 1158.8,589.5 1161.8,588.8 1165,594.5 1168,606.2 1171.2,612.5 1174.2,652.5 1177,665 1180,636.8 1183,642.5 1186.2,648.2 1189.2,648.8 1192,633.2 1195,628.2 1198,613.2 1201.2,621.8 1204.5,616.2 1207.5,609.2 1210.5,593.8 1214.2,577 1217,598.8 1220,621.2 1223,648.2 1226.2,643.8 1229.2,621.8 1232,623 1235.5,619.2 1238.2,630.8"/>
</g>
<text class="lg" x="16.3" y="547.2" fill="#6a6d78" style="fill:#6a6d78" textLength="129.7" lengthAdjust="spacingAndGlyphs">RSI (14, close, SMA, 14, 2)</text>
<text x="153.8" y="547.2" font-size="11" font-weight="bold" fill="#434651" textLength="27" lengthAdjust="spacingAndGlyphs">57.27</text>
<text x="187.3" y="547.2" font-size="9.5" fill="#6a6d78">∅</text>
<text x="201.2" y="547.2" font-size="9.5" fill="#6a6d78">∅</text>
<line x1="1335.5" y1="26" x2="1335.5" y2="772" stroke="#434651" stroke-width="1.1"/>
<line x1="10" y1="747.5" x2="1389.5" y2="747.5" stroke="#4f525e" stroke-width="1.4"/>
<rect x="1339" y="28.8" width="48" height="23.6" rx="4" ry="4" fill="#fff" stroke="#e0e3eb" stroke-width="1"/>
<text x="1348.5" y="45" font-size="11" fill="#434651" textLength="18" lengthAdjust="spacingAndGlyphs">JPY</text>
<text class="ax" x="1343" y="495" textLength="38.5" lengthAdjust="spacingAndGlyphs">136.000</text>
<text class="ax" x="1343" y="452.5" textLength="38.5" lengthAdjust="spacingAndGlyphs">140.000</text>
<text class="ax" x="1343" y="410" textLength="38.5" lengthAdjust="spacingAndGlyphs">144.000</text>
<text class="ax" x="1343" y="367.6" textLength="38.5" lengthAdjust="spacingAndGlyphs">148.000</text>
<text class="ax" x="1343" y="325.1" textLength="38.5" lengthAdjust="spacingAndGlyphs">152.000</text>
<text class="ax" x="1343" y="282.6" textLength="38.5" lengthAdjust="spacingAndGlyphs">156.000</text>
<text class="ax" x="1343" y="240.2" textLength="38.5" lengthAdjust="spacingAndGlyphs">160.000</text>
<text class="ax" x="1343" y="197.7" textLength="38.5" lengthAdjust="spacingAndGlyphs">164.000</text>
<text class="ax" x="1343" y="155.2" textLength="38.5" lengthAdjust="spacingAndGlyphs">168.000</text>
<text class="ax" x="1343" y="112.8" textLength="38.5" lengthAdjust="spacingAndGlyphs">172.000</text>
<text class="ax" x="1343" y="70.3" textLength="38.5" lengthAdjust="spacingAndGlyphs">176.000</text>
<text class="ax" x="1342.5" y="726.3" textLength="27.5" lengthAdjust="spacingAndGlyphs">30.00</text>
<text class="ax" x="1342.5" y="693" textLength="27.5" lengthAdjust="spacingAndGlyphs">40.00</text>
<text class="ax" x="1342.5" y="659.6" textLength="27.5" lengthAdjust="spacingAndGlyphs">50.00</text>
<text class="ax" x="1342.5" y="626.3" textLength="27.5" lengthAdjust="spacingAndGlyphs">60.00</text>
<text class="ax" x="1342.5" y="593" textLength="27.5" lengthAdjust="spacingAndGlyphs">70.00</text>
<text class="ax" x="1342.5" y="559.7" textLength="27.5" lengthAdjust="spacingAndGlyphs">80.00</text>
<path d="M1336 86.1H1385a2 2 0 0 1 2 2V99.3a2 2 0 0 1 -2 2H1336Z" fill="#f23645"/>
<text class="tag" x="1343" y="97.7" textLength="38.5" lengthAdjust="spacingAndGlyphs">173.400</text>
<path d="M1336 118.7H1385a2 2 0 0 1 2 2V131.9a2 2 0 0 1 -2 2H1336Z" fill="#f23645"/>
<text class="tag" x="1343" y="130.3" textLength="38.5" lengthAdjust="spacingAndGlyphs">170.200</text>
<path d="M1336 134.2H1385a2 2 0 0 1 2 2V147.4a2 2 0 0 1 -2 2H1336Z" fill="#000"/>
<text class="tag" x="1343" y="145.8" textLength="38.5" lengthAdjust="spacingAndGlyphs">168.937</text>
<path d="M1336 159.4H1385a2 2 0 0 1 2 2V172.6a2 2 0 0 1 -2 2H1336Z" fill="#1b5e20"/>
<text class="tag" x="1343" y="171" textLength="38.5" lengthAdjust="spacingAndGlyphs">166.550</text>
<path d="M1336 175H1385a2 2 0 0 1 2 2V188.2a2 2 0 0 1 -2 2H1336Z" fill="#1b5e20"/>
<text class="tag" x="1343" y="186.6" textLength="38.5" lengthAdjust="spacingAndGlyphs">165.108</text>
<path d="M1336 224H1385a2 2 0 0 1 2 2V237.2a2 2 0 0 1 -2 2H1336Z" fill="#1b5e20"/>
<text class="tag" x="1343" y="235.6" textLength="38.5" lengthAdjust="spacingAndGlyphs">160.467</text>
<path d="M1336 241.6H1385a2 2 0 0 1 2 2V254.8a2 2 0 0 1 -2 2H1336Z" fill="#1b5e20"/>
<text class="tag" x="1343" y="253.2" textLength="38.5" lengthAdjust="spacingAndGlyphs">158.796</text>
<path d="M1336 699.8H1372.5a2 2 0 0 1 2 2V713a2 2 0 0 1 -2 2H1336Z" fill="#1b5e20"/>
<text class="tag" x="1343" y="711.4" textLength="27.5" lengthAdjust="spacingAndGlyphs">34.54</text>
<text x="46.8" y="763.4" font-size="11" fill="#50535e" textLength="17.5" lengthAdjust="spacingAndGlyphs">Jun</text>
<text x="178.1" y="763.4" font-size="11" fill="#50535e" textLength="17.8" lengthAdjust="spacingAndGlyphs">Aug</text>
<text x="315.5" y="763.4" font-size="11" fill="#50535e" textLength="17" lengthAdjust="spacingAndGlyphs">Oct</text>
<text x="397.5" y="763.4" font-size="11" fill="#50535e" textLength="5.6" lengthAdjust="spacingAndGlyphs">7</text>
<text x="507.9" y="763.4" font-size="11" fill="#131722" stroke="#131722" stroke-width="0.45" textLength="24.2" lengthAdjust="spacingAndGlyphs">2023</text>
<text x="639.1" y="763.4" font-size="11" fill="#50535e" textLength="17.7" lengthAdjust="spacingAndGlyphs">Mar</text>
<text x="770" y="763.4" font-size="11" fill="#50535e" textLength="19.3" lengthAdjust="spacingAndGlyphs">May</text>
<text x="910" y="763.4" font-size="11" fill="#50535e" textLength="14.3" lengthAdjust="spacingAndGlyphs">Jul</text>
<text x="1043.1" y="763.4" font-size="11" fill="#50535e" textLength="17.9" lengthAdjust="spacingAndGlyphs">Sep</text>
<text x="1174" y="763.4" font-size="11" fill="#50535e" textLength="18.5" lengthAdjust="spacingAndGlyphs">Nov</text>
<text x="1302.5" y="763.4" font-size="11" fill="#131722" stroke="#131722" stroke-width="0.45" textLength="25" lengthAdjust="spacingAndGlyphs">2024</text>
<path d="M9.2 784H16v8.5h-3.8v-4.5H9.2z" fill="#131722"/>
<circle cx="18.8" cy="785.4" r="1.4" fill="#131722"/>
<path d="M21.6 784H27L23.5 792.5H19.6z" fill="#131722"/>
<text x="31.2" y="792.6" font-size="11.5" fill="#2a2e39" textLength="64.3" lengthAdjust="spacingAndGlyphs">TradingView</text>
</svg>
</body></html>
